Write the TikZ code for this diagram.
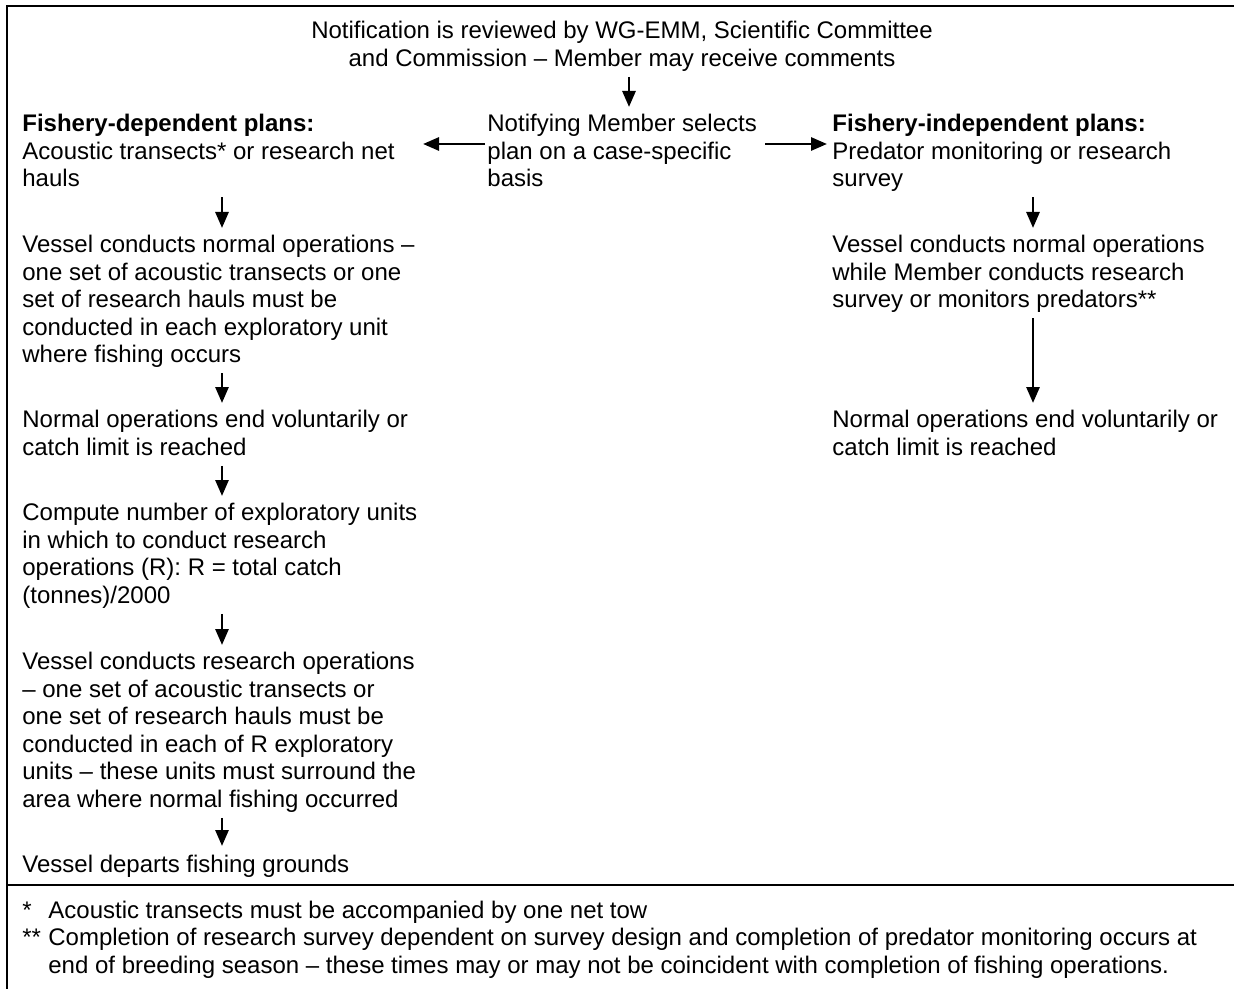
\documentclass[tikz,border=0pt]{standalone}
\usepackage{fontspec}
\setmainfont{Liberation Sans}
\usepackage{tikz}
\usetikzlibrary{arrows.meta,positioning}
\tikzstyle{txtNode} = [anchor=north west, inner sep=0pt, align=left, font=\fontsize{12}{13.75}\selectfont, execute at end node=\strut]
\tikzstyle{noteMark} = [anchor=base west, inner sep=0pt, font=\fontsize{12}{13.75}\selectfont]
\tikzstyle{arrow} = [line width=1.4pt,-{Triangle[length=8pt,width=6.5pt]},shorten <=1pt,shorten >=3.5pt]
\tikzstyle{frameLine} = [line width=0.9pt]

\begin{document}
\begin{tikzpicture}[x=0.5pt,y=-0.5pt]
    \useasboundingbox (0,0) rectangle (1234,989);
    \draw [frameLine] (1234,6) -- (7,6) -- (7,989);
    \draw [frameLine] (7,885) -- (1234,885);

    \coordinate (cL) at (222,0);
    \coordinate (cR) at (1033,0);
    \coordinate (cM) at (629,0);
    \coordinate (tipL) at (423,144);
    \coordinate (tipR) at (827,144);

    \node (review) [txtNode, anchor=north, align=center] at (622,21) {Notification is reviewed by WG-EMM, Scientific Committee\\and Commission -- Member may receive comments};
    \node (select) [txtNode] at (487,114) {Notifying Member selects\\plan on a case-specific\\basis};
    \node (dep) [txtNode] at (22,114) {\textbf{Fishery-dependent plans:}\\Acoustic transects* or research net\\hauls};
    \node (indep) [txtNode] at (832,114) {\textbf{Fishery-independent plans:}\\Predator monitoring or research\\survey};

    \node (normL) [txtNode] at (22,235) {Vessel conducts normal operations --\\one set of acoustic transects or one\\set of research hauls must be\\conducted in each exploratory unit\\where fishing occurs};
    \node (endL) [txtNode] at (22,410) {Normal operations end voluntarily or\\catch limit is reached};
    \node (compute) [txtNode] at (22,503) {Compute number of exploratory units\\in which to conduct research\\operations (R): R = total catch\\(tonnes)/2000};
    \node (research) [txtNode] at (22,652) {Vessel conducts research operations\\-- one set of acoustic transects or\\one set of research hauls must be\\conducted in each of R exploratory\\units -- these units must surround the\\area where normal fishing occurred};
    \node (depart) [txtNode] at (22,853) {Vessel departs fishing grounds};

    \node (normR) [txtNode] at (832,235) {Vessel conducts normal operations\\while Member conducts research\\survey or monitors predators**};
    \node (endR) [txtNode] at (832,410) {Normal operations end voluntarily or\\catch limit is reached};

    % footnotes
    \node (mark1) [noteMark] at (22,918) {*};
    \node (note1) [txtNode] at (48,899) {Acoustic transects must be accompanied by one net tow};
    \node (mark2) [noteMark] at (22,945) {**};
    \node (note2) [txtNode] at (48,928) {Completion of research survey dependent on survey design and completion of predator monitoring occurs at\\end of breeding season -- these times may or may not be coincident with completion of fishing operations.};

    \draw [arrow] (review.south -| cM) -- (select.north -| cM);
    \draw [arrow, shorten <=0pt, shorten >=0pt] ([xshift=-1pt]select.west |- tipL) -- (tipL);
    \draw [arrow, shorten <=0pt, shorten >=0pt] ([xshift=4pt]select.east |- tipR) -- (tipR);

    \draw [arrow] (dep.south -| cL) -- (normL.north -| cL);
    \draw [arrow] (normL.south -| cL) -- (endL.north -| cL);
    \draw [arrow] (endL.south -| cL) -- (compute.north -| cL);
    \draw [arrow] (compute.south -| cL) -- (research.north -| cL);
    \draw [arrow] (research.south -| cL) -- (depart.north -| cL);

    \draw [arrow] (indep.south -| cR) -- (normR.north -| cR);
    \draw [arrow] (normR.south -| cR) -- (endR.north -| cR);
\end{tikzpicture}
\end{document}
